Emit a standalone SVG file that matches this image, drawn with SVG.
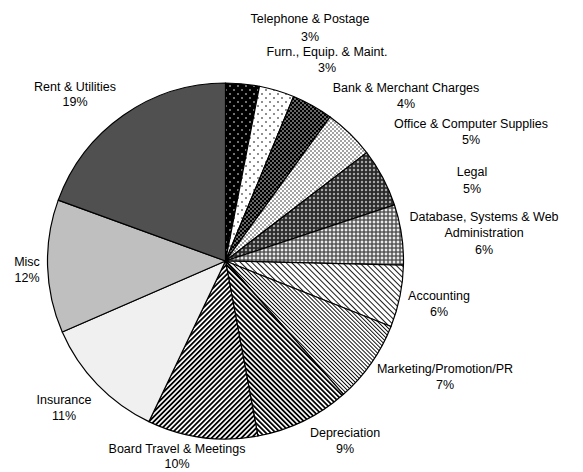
<svg xmlns="http://www.w3.org/2000/svg" width="583" height="472" viewBox="0 0 583 472">
<style>
text{font-family:"Liberation Sans",Arial,sans-serif;font-size:12.5px;fill:#000;text-anchor:middle}
.s{stroke:#000;stroke-width:1.2;stroke-linejoin:round}
</style>
<defs>
<pattern id="pTel" patternUnits="userSpaceOnUse" width="8" height="8"><rect width="8" height="8" fill="#000"/><circle cx="2" cy="2" r="0.8" fill="#fff"/><circle cx="6" cy="6" r="0.8" fill="#fff"/></pattern>
<pattern id="pFurn" patternUnits="userSpaceOnUse" width="8" height="8"><rect width="8" height="8" fill="#fff"/><circle cx="2" cy="2" r="0.8" fill="#000"/><circle cx="6" cy="6" r="0.8" fill="#000"/></pattern>
<pattern id="pBank" patternUnits="userSpaceOnUse" width="4" height="4"><rect width="4" height="4" fill="#000"/><circle cx="1" cy="1" r="0.75" fill="#fff"/><circle cx="3" cy="3" r="0.75" fill="#fff"/></pattern>
<pattern id="pOff" patternUnits="userSpaceOnUse" width="4" height="4"><rect width="4" height="4" fill="#fff"/><circle cx="1" cy="1" r="0.7" fill="#000"/><circle cx="3" cy="3" r="0.7" fill="#000"/></pattern>
<pattern id="pLeg" patternUnits="userSpaceOnUse" width="4" height="4"><rect width="4" height="4" fill="#2a2a2a"/><path d="M2 0.6L3.4 2L2 3.4L0.6 2Z" fill="#bdbdbd"/></pattern>
<pattern id="pDb" patternUnits="userSpaceOnUse" width="4" height="4"><rect width="4" height="4" fill="#5a5a5a"/><path d="M2 0.3L3.7 2L2 3.7L0.3 2Z" fill="#eeeeee"/></pattern>
<pattern id="pAcc" patternUnits="userSpaceOnUse" width="4" height="4" patternTransform="rotate(-45)"><rect width="4" height="4" fill="#fff"/><rect width="0.9" height="4" fill="#000"/></pattern>
<pattern id="pMkt" patternUnits="userSpaceOnUse" width="2.8" height="4" patternTransform="rotate(-45)"><rect width="2.8" height="4" fill="#fff"/><rect width="0.9" height="4" fill="#000"/></pattern>
<pattern id="pDep" patternUnits="userSpaceOnUse" width="3.5" height="4" patternTransform="rotate(-45)"><rect width="3.5" height="4" fill="#fff"/><rect width="1.8" height="4" fill="#000"/></pattern>
<pattern id="pBrd" patternUnits="userSpaceOnUse" width="3.5" height="4" patternTransform="rotate(45)"><rect width="3.5" height="4" fill="#fff"/><rect width="1.8" height="4" fill="#000"/></pattern>
</defs>
<g id="slices">
<g id="telephone"><path class="s" fill="url(#pTel)" d="M225.5 261L225.5 83A178 178 0 0 1 259.46 86.27Z"/></g>
<g id="furn"><path class="s" fill="url(#pFurn)" d="M225.5 261L259.46 86.27A178 178 0 0 1 293.62 96.55Z"/></g>
<g id="bank"><path class="s" fill="url(#pBank)" d="M225.5 261L293.62 96.55A178 178 0 0 1 330.13 117Z"/></g>
<g id="office"><path class="s" fill="url(#pOff)" d="M225.5 261L330.13 117A178 178 0 0 1 366.72 152.63Z"/></g>
<g id="legal"><path class="s" fill="url(#pLeg)" d="M225.5 261L366.72 152.63A178 178 0 0 1 394.4 204.81Z"/></g>
<g id="database"><path class="s" fill="url(#pDb)" d="M225.5 261L394.4 204.81A178 178 0 0 1 403.45 265.04Z"/></g>
<g id="accounting"><path class="s" fill="url(#pAcc)" d="M225.5 261L403.45 265.04A178 178 0 0 1 391 326.52Z"/></g>
<g id="marketing"><path class="s" fill="url(#pMkt)" d="M225.5 261L391 326.52A178 178 0 0 1 343.44 394.32Z"/></g>
<g id="depreciation"><path class="s" fill="url(#pDep)" d="M225.5 261L343.44 394.32A178 178 0 0 1 257.93 436.03Z"/></g>
<g id="board"><path class="s" fill="url(#pBrd)" d="M225.5 261L257.93 436.03A178 178 0 0 1 148.87 421.66Z"/></g>
<g id="insurance"><path class="s" fill="#f0f0f0" d="M225.5 261L148.87 421.66A178 178 0 0 1 62.26 331.97Z"/></g>
<g id="misc"><path class="s" fill="#bfbfbf" d="M225.5 261L62.26 331.97A178 178 0 0 1 58.23 200.12Z"/></g>
<g id="rent"><path class="s" fill="#505050" d="M225.5 261L58.23 200.12A178 178 0 0 1 225.5 83Z"/></g>
</g>
<g id="labels">
<text x="310" y="23">Telephone &amp; Postage</text><text x="310" y="41">3%</text>
<text x="327" y="56">Furn., Equip. &amp; Maint.</text><text x="327" y="72">3%</text>
<text x="406" y="92">Bank &amp; Merchant Charges</text><text x="406" y="108">4%</text>
<text x="471" y="128">Office &amp; Computer Supplies</text><text x="471" y="144">5%</text>
<text x="472" y="176">Legal</text><text x="472" y="193">5%</text>
<text x="484" y="221">Database, Systems &amp; Web</text><text x="484" y="237">Administration</text><text x="484" y="254">6%</text>
<text x="439" y="300">Accounting</text><text x="439" y="316">6%</text>
<text x="445" y="373">Marketing/Promotion/PR</text><text x="445" y="389">7%</text>
<text x="345" y="437">Depreciation</text><text x="345" y="453">9%</text>
<text x="177" y="453">Board Travel &amp; Meetings</text><text x="177" y="468">10%</text>
<text x="64" y="404">Insurance</text><text x="64" y="420">11%</text>
<text x="27" y="266">Misc</text><text x="27" y="282">12%</text>
<text x="75" y="91">Rent &amp; Utilities</text><text x="75" y="106">19%</text>
</g>
</svg>
